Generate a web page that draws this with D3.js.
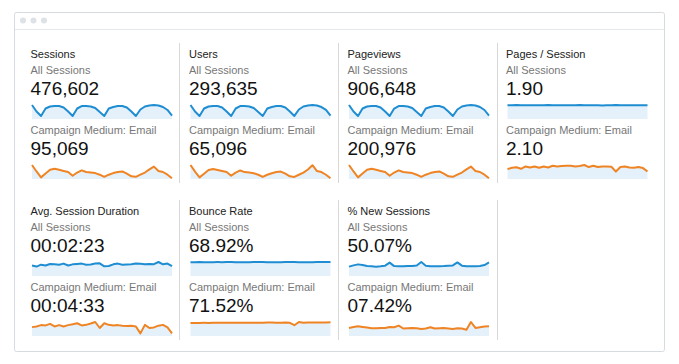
<!DOCTYPE html>
<html>
<head>
<meta charset="utf-8">
<script src="https://cdn.jsdelivr.net/npm/d3@7"></script>
<style>
  html, body { margin: 0; padding: 0; background: #ffffff; }
  svg { display: block; }
  text { font-family: "Liberation Sans", Arial, Helvetica, sans-serif; }
</style>
</head>
<body>
<svg id="chart" width="679" height="364"></svg>
<script>
// ---------- data ----------
const metrics = ["Sessions", "Users", "Pageviews", "Pages / Session",
                 "Avg. Session Duration", "Bounce Rate", "% New Sessions"];
const segments = ["All Sessions", "Campaign Medium: Email"];
const allTotals = ["476,602", "293,635", "906,648", "1.90", "00:02:23", "68.92%", "50.07%"];
const emailTotals = ["95,069", "65,096", "200,976", "2.10", "00:04:33", "71.52%", "07.42%"];
const days = d3.range(32);

const sessionsAll = [18000, 9600, 3900, 13500, 16100, 16700, 16700, 14800, 9600, 3900, 13500, 16700, 16700, 16100, 14100, 9000,
                     3900, 13500, 15400, 16700, 16700, 14800, 9600, 3900, 12200, 16100, 17400, 18000, 17400, 15400, 11600, 4200];
const sessionsEmail = [4640, 2500, 540, 1790, 3040, 3390, 3040, 2680, 2320, 1070, 2140, 2860, 2320, 2140, 1960, 1430,
                       710, 1430, 1960, 2320, 2500, 1790, 890, 710, 1430, 2140, 3210, 4110, 2680, 2320, 1430, 250];
const usersAll = [11000, 5900, 2400, 8250, 9850, 10200, 10200, 9050, 5900, 2400, 8250, 10200, 10200, 9850, 8600, 5500,
                  2400, 8250, 9400, 10200, 10200, 9050, 5900, 2400, 7450, 9850, 10600, 11000, 10600, 9400, 7100, 2600];
const usersEmail = [3200, 1700, 370, 1220, 2070, 2300, 2070, 1820, 1580, 730, 1460, 1950, 1580, 1460, 1330, 970,
                    480, 970, 1330, 1580, 1700, 1220, 610, 480, 970, 1460, 2180, 3150, 1820, 1580, 970, 170];
const pageviewsAll = [34200, 18200, 7400, 25600, 30600, 31700, 31700, 28100, 18200, 7400, 25600, 31700, 31700, 30600, 26800, 17100,
                      7400, 25600, 29300, 31700, 31700, 28100, 18200, 7400, 23200, 30600, 33100, 34200, 33100, 29300, 22000, 8000];
const pageviewsEmail = [9740, 5250, 1130, 3760, 6380, 7120, 6380, 5630, 4870, 2250, 4490, 6010, 4870, 4490, 4120, 3000,
                        1490, 3000, 4120, 4870, 5250, 3760, 1870, 1490, 3000, 4490, 6740, 8630, 5630, 4870, 3000, 530];
const pagesPerSessionAll = [1.89, 1.91, 1.93, 1.90, 1.89, 1.90, 1.91, 1.90, 1.92, 1.93, 1.90, 1.89, 1.90, 1.91, 1.90, 1.92,
                            1.94, 1.90, 1.89, 1.90, 1.89, 1.88, 1.90, 1.92, 1.93, 1.90, 1.89, 1.90, 1.91, 1.92, 1.90, 1.89];
const pagesPerSessionEmail = [1.73, 1.96, 2.05, 1.79, 2.20, 2.02, 2.20, 1.96, 2.20, 2.02, 2.32, 2.20, 2.27, 2.32, 2.32, 2.20,
                              2.27, 2.45, 2.09, 2.32, 2.09, 2.20, 2.20, 2.14, 1.30, 2.09, 2.20, 2.02, 1.96, 2.09, 1.91, 1.30];
const avgDurationAll = [124, 112, 134, 124, 142, 138, 134, 147, 124, 138, 142, 147, 134, 136, 147, 150,
                        115, 118, 138, 147, 134, 136, 138, 147, 145, 138, 142, 140, 166, 138, 147, 116];
const avgDurationEmail = [205, 221, 251, 244, 280, 221, 251, 221, 251, 271, 294, 244, 257, 287, 323, 185,
                          294, 257, 244, 251, 238, 231, 238, 221, 60, 257, 185, 198, 238, 257, 198, 60];
const bounceAll = [68.5, 68.9, 69.2, 68.8, 68.6, 68.7, 69.0, 68.9, 69.1, 69.3, 68.8, 68.6, 68.7, 68.9, 69.0, 69.2,
                   69.4, 68.9, 68.7, 68.8, 68.9, 69.1, 69.2, 69.5, 68.9, 68.7, 68.8, 68.9, 69.0, 69.2, 69.4, 69.6];
const bounceEmail = [68.5, 69.0, 69.2, 69.5, 69.3, 69.8, 70.0, 69.8, 70.2, 70.0, 70.3, 70.5, 70.2, 70.0, 70.4, 70.5,
                     70.3, 70.8, 71.0, 70.5, 70.2, 70.8, 69.5, 57.0, 74.0, 70.5, 71.5, 72.0, 71.5, 71.2, 72.0, 72.2];
const newSessionsAll = [43.5, 49.4, 54, 51, 46, 45, 43.5, 45, 48, 62, 46, 45, 45, 46, 46, 49,
                        65, 48, 45, 45, 45, 46, 48, 49, 63, 48, 45, 45, 45, 46, 51, 63];
const newSessionsEmail = [8.1, 9.1, 9.8, 9.1, 8.5, 7.8, 7.8, 8.1, 8.1, 9.1, 8.8, 10.4, 7.5, 7.8, 8.1, 7.8,
                          7.0, 7.5, 8.8, 7.5, 7.8, 8.1, 7.5, 7.0, 7.8, 7.5, 6.3, 14.0, 8.1, 8.8, 9.4, 9.8];

const allSeries = [sessionsAll, usersAll, pageviewsAll, pagesPerSessionAll, avgDurationAll, bounceAll, newSessionsAll];
const emailSeries = [sessionsEmail, usersEmail, pageviewsEmail, pagesPerSessionEmail, avgDurationEmail, bounceEmail, newSessionsEmail];

// ---------- layout ----------
const svg = d3.select("#chart");
const colPitch = 158.5, rowPitch = 157;
const textX0 = 30.5, sparkX0 = 32, sparkW = 140, sparkH = 14;
const blue = "#1f8dd2", orange = "#ef8424", fill = "#e5f1fa";

// window frame
svg.append("rect").attr("x", 14.5).attr("y", 12.5).attr("width", 650).attr("height", 339)
  .attr("rx", 2).attr("fill", "#fff").attr("stroke", "#d6dbe0");
svg.append("line").attr("x1", 15).attr("x2", 664).attr("y1", 29.5).attr("y2", 29.5)
  .attr("stroke", "#e6e9ec");
svg.selectAll("circle.dot").data([23, 33.5, 44]).join("circle")
  .attr("class", "dot").attr("cx", d => d).attr("cy", 20.5).attr("r", 3).attr("fill", "#dde2e7");

// separators
const sepRows = [[43, 183], [200, 340]];
sepRows.forEach(([y1, y2]) => {
  [0, 1, 2].forEach(k => {
    svg.append("line").attr("x1", 179.5 + 159 * k).attr("x2", 179.5 + 159 * k)
      .attr("y1", y1).attr("y2", y2).attr("stroke", "#d8d8d8");
  });
});

const x = d3.scaleLinear().domain([0, days.length - 1]).range([0, sparkW]);

function spark(g, values, color, top) {
  const y = d3.scaleLinear().domain([0, d3.max(values)]).range([top + sparkH, top]);
  const area = d3.area().x((d, i) => x(days[i])).y0(top + sparkH).y1(d => y(d));
  const line = d3.line().x((d, i) => x(days[i])).y(d => y(d));
  g.append("path").datum(values).attr("d", area).attr("fill", fill);
  g.append("path").datum(values).attr("d", line).attr("fill", "none")
    .attr("stroke", color).attr("stroke-width", 2).attr("stroke-linejoin", "round");
}

metrics.forEach((m, i) => {
  const c = i < 4 ? i : i - 4;
  const r = i < 4 ? 0 : 1;
  const tx = textX0 + colPitch * c;
  const oy = rowPitch * r;
  const g = svg.append("g");
  g.append("text").attr("x", tx).attr("y", 58.3 + oy).attr("font-size", 11).attr("fill", "#222").text(m);
  g.append("text").attr("x", tx).attr("y", 74.3 + oy).attr("font-size", 11).attr("fill", "#777").text(segments[0]);
  g.append("text").attr("x", tx).attr("y", 94.5 + oy).attr("font-size", 19).attr("fill", "#111").text(allTotals[i]);
  g.append("text").attr("x", tx).attr("y", 134 + oy).attr("font-size", 11).attr("fill", "#777").text(segments[1]);
  g.append("text").attr("x", tx).attr("y", 154.5 + oy).attr("font-size", 19).attr("fill", "#111").text(emailTotals[i]);
  const sg = g.append("g").attr("transform", `translate(${sparkX0 + colPitch * c},0)`);
  spark(sg, allSeries[i], blue, 105 + oy);
  spark(sg, emailSeries[i], orange, 165 + oy);
});
</script>
</body>
</html>
